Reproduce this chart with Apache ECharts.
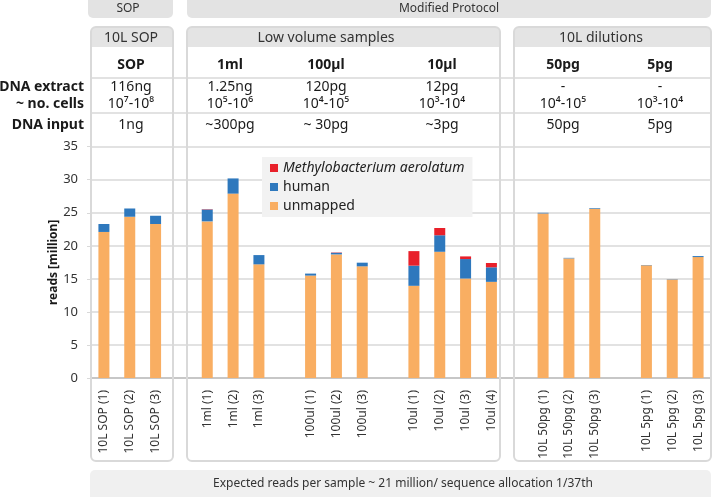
<!DOCTYPE html>
<html>
<head>
<meta charset="utf-8">
<script src="https://cdn.jsdelivr.net/npm/echarts@6/dist/echarts.min.js"></script>
<style>
  html, body { margin: 0; padding: 0; background: #fff; }
  #chart { width: 713px; height: 497px; }
</style>
</head>
<body>
<div id="chart"></div>
<script>
// 样本名称（空字符串为分组间隔）
const categories = [
  '10L SOP (1)', '10L SOP (2)', '10L SOP (3)', '',
  '1ml (1)', '1ml (2)', '1ml (3)', '',
  '100ul (1)', '100ul (2)', '100ul (3)', '',
  '10ul (1)', '10ul (2)', '10ul (3)', '10ul (4)', '',
  '10L 50pg (1)', '10L 50pg (2)', '10L 50pg (3)', '',
  '10L 5pg (1)', '10L 5pg (2)', '10L 5pg (3)'
]

// reads [million]
const unmapped = [22.1, 24.4, 23.3, null, 23.7, 27.9, 17.2, null, 15.5, 18.7, 16.9, null,
  13.95, 19.1, 15.05, 14.55, null, 24.9, 18.1, 25.6, null, 17.05, 14.9, 18.3]
const human = [1.2, 1.25, 1.25, null, 1.8, 2.3, 1.4, null, 0.3, 0.25, 0.55, null,
  3.05, 2.5, 2.95, 2.2, null, 0.1, 0.08, 0.1, null, 0.05, 0.05, 0.15]
const methylo = [0, 0, 0, null, 0.05, 0, 0, null, 0, 0.05, 0, null,
  2.2, 1.1, 0.4, 0.65, null, 0, 0, 0, null, 0, 0, 0]

// 表头
const topGroups = ['SOP', 'Modified Protocol']
const groupNames = ['10L SOP', 'Low volume samples', '10L dilutions']
const rowLabels = ['DNA extract', '~ no. cells', 'DNA input']
const columnNames = ['SOP', '1ml', '100µl', '10µl', '50pg', '5pg']
const dnaExtract = ['116ng', '1.25ng', '120pg', '12pg', '-', '-']
const cellCounts = ['10⁷-10⁸', '10⁵-10⁶', '10⁴-10⁵', '10³-10⁴', '10⁴-10⁵', '10³-10⁴']
const dnaInput = ['1ng', '~300pg', '~ 30pg', '~3pg', '50pg', '5pg']
const footNote = 'Expected reads per sample ~ 21 million/ sequence allocation 1/37th'

const FONT = '"Noto Sans", "Open Sans", sans-serif'
const BORDER = '#D9D9D9'

const colX = [131, 230, 326, 442, 563, 660]
const groupBoxes = [[91, 173], [187, 500], [514, 711]]
const groupTextX = [131, 326, 601]
const topBoxes = [[88, 173], [187, 711]]
const topTextX = [128, 449]

function txt(text, x, y, opts) {
  return {
    type: 'text',
    z: 10,
    style: Object.assign({
      text: text, x: x, y: y,
      textAlign: 'center', textVerticalAlign: 'middle',
      fontFamily: FONT, fontSize: 14, fill: '#1a1a1a'
    }, opts || {})
  }
}

const graphics = []

// 顶部分组
topBoxes.forEach(([x1, x2], i) => {
  graphics.push({ type: 'rect', z: 1, shape: { x: x1, y: -6, width: x2 - x1, height: 24, r: 5 }, style: { fill: '#E3E3E3' } })
  graphics.push(txt(topGroups[i], topTextX[i], 9, { fontSize: 12, fill: '#333' }))
})

// 分组框
groupBoxes.forEach(([x1, x2], i) => {
  graphics.push({ type: 'rect', z: 1, shape: { x: x1, y: 27, width: x2 - x1, height: 20, r: [5, 5, 0, 0] }, style: { fill: '#E4E4E4' } })
  graphics.push({ type: 'rect', z: 5, shape: { x: x1, y: 27, width: x2 - x1, height: 434, r: 5 }, style: { fill: 'none', stroke: BORDER, lineWidth: 2 } })
  graphics.push(txt(groupNames[i], groupTextX[i], 38, { fontSize: 14, fill: '#333' }))
})

// 表格横线
;[78, 113].forEach(y => {
  graphics.push({ type: 'line', z: 4, shape: { x1: 91, y1: y, x2: 711, y2: y }, style: { stroke: BORDER, lineWidth: 1.5 } })
})

// 行标签
;[87, 104, 125].forEach((y, i) => {
  graphics.push(txt(rowLabels[i], 84, y, { textAlign: 'right', fontWeight: 'bold', fontSize: 14 }))
})

// 表格内容
colX.forEach((x, i) => {
  graphics.push(txt(columnNames[i], x, 65, { fontWeight: 'bold', fontSize: 14 }))
  graphics.push(txt(dnaExtract[i], x, 87))
  graphics.push(txt(cellCounts[i], x, 104))
  graphics.push(txt(dnaInput[i], x, 125))
})

// 底部说明
graphics.push({ type: 'rect', z: 1, shape: { x: 90, y: 470, width: 621, height: 34, r: 5 }, style: { fill: '#F0F0F0' } })
graphics.push(txt(footNote, 403, 484, { fontSize: 12, fill: '#333' }))

const chart = echarts.init(document.getElementById('chart'))

const option = {
  animation: false,
  textStyle: { fontFamily: FONT },
  grid: { left: 91, right: 2, top: 146.7, bottom: 119 },
  legend: {
    orient: 'vertical',
    left: 262,
    top: 157,
    backgroundColor: '#F2F2F2',
    padding: [4, 8, 4, 8],
    itemWidth: 8,
    itemHeight: 8,
    itemGap: 5,
    icon: 'rect',
    data: ['Methylobacterium aerolatum', 'human', 'unmapped'],
    formatter: name => name === 'Methylobacterium aerolatum' ? '{i|' + name + '}' : name,
    textStyle: {
      fontSize: 14, color: '#222', fontFamily: FONT,
      rich: { i: { fontStyle: 'italic', fontSize: 14, fontFamily: FONT, color: '#222' } }
    }
  },
  xAxis: {
    type: 'category',
    data: categories,
    axisLine: { lineStyle: { color: '#BFBFBF', width: 1.5 } },
    axisTick: { length: 5, lineStyle: { color: '#BFBFBF' } },
    axisLabel: { interval: 0, rotate: 90, fontSize: 12, margin: 12, color: '#333' }
  },
  yAxis: {
    type: 'value',
    min: 0,
    max: 35,
    interval: 5,
    name: 'reads [million]',
    nameLocation: 'middle',
    nameGap: 31,
    nameMoveOverlap: false,
    nameTextStyle: { fontWeight: 'bold', fontSize: 12, color: '#1a1a1a' },
    axisLine: { show: false },
    axisTick: { show: true, length: 4, lineStyle: { color: BORDER } },
    axisLabel: { fontSize: 13, margin: 13, color: '#333' },
    splitLine: { lineStyle: { color: BORDER, width: 1.5 } }
  },
  series: [
    { name: 'unmapped', type: 'bar', stack: 'reads', barWidth: 11, data: unmapped, itemStyle: { color: '#F9AE62' } },
    { name: 'human', type: 'bar', stack: 'reads', barWidth: 11, data: human, itemStyle: { color: '#2E78BD' } },
    { name: 'Methylobacterium aerolatum', type: 'bar', stack: 'reads', barWidth: 11, data: methylo, itemStyle: { color: '#E8202A' } }
  ],
  graphic: graphics
}

chart.setOption(option)
</script>
</body>
</html>
